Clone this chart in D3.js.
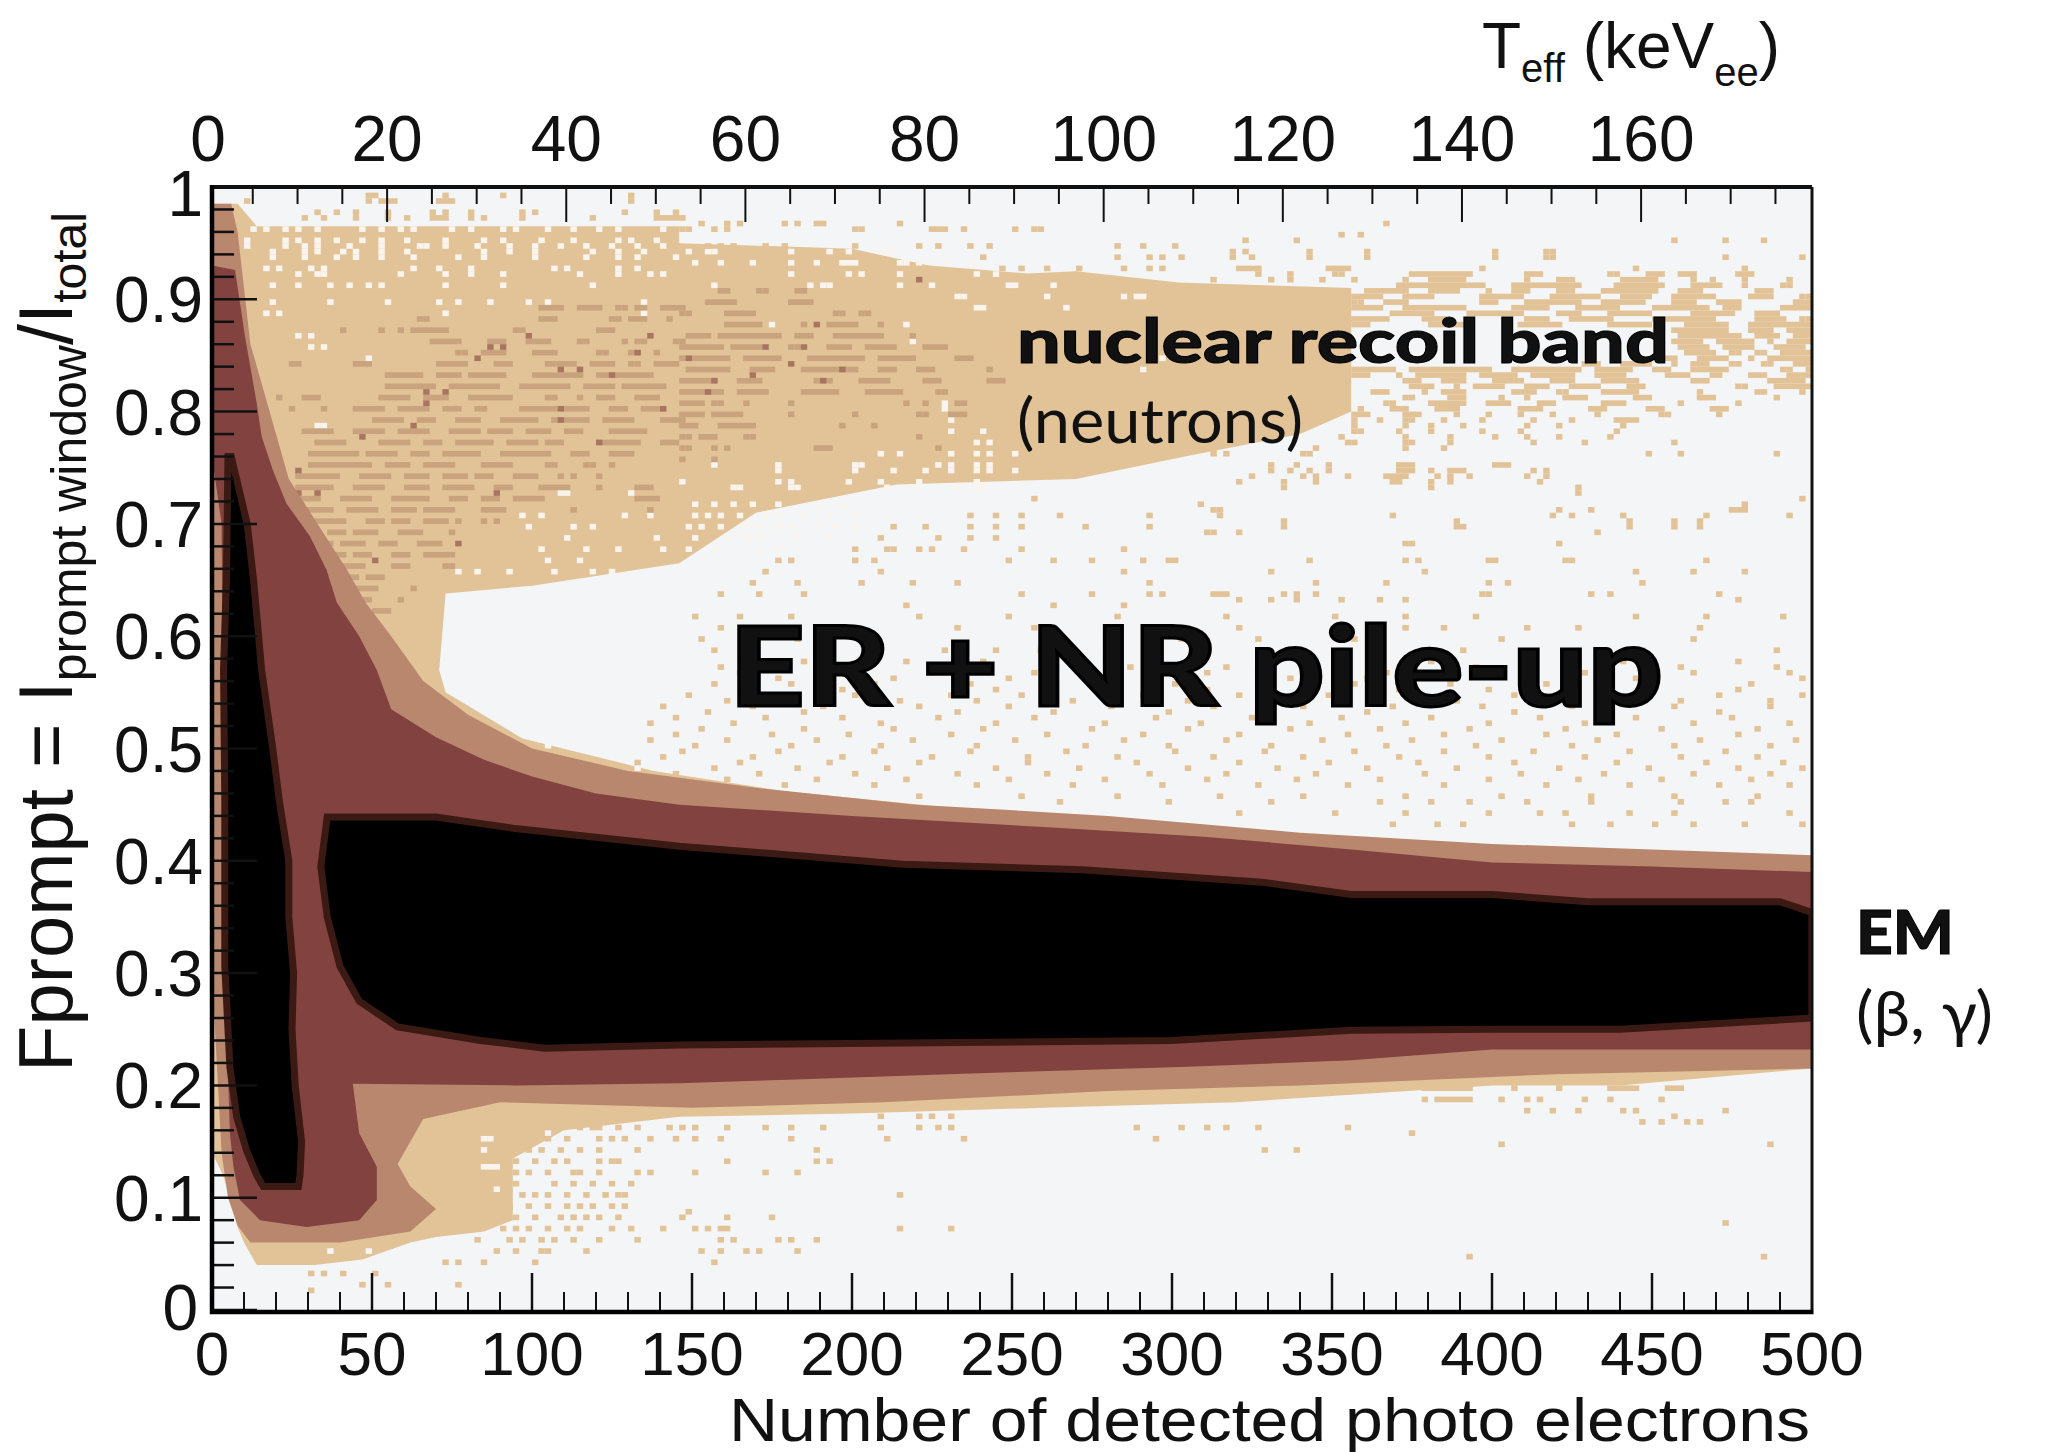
<!DOCTYPE html>
<html><head><meta charset="utf-8">
<script src="https://cdn.jsdelivr.net/npm/d3@7"></script>
<style>html,body{margin:0;background:#fff}svg{display:block}text{font-family:"Liberation Sans",Arial,sans-serif;fill:#111}</style>
</head><body><svg id="c" width="2049" height="1452"></svg>
<script>
// --- axis values
const peTicks=[0,50,100,150,200,250,300,350,400,450,500];
const peMinor=d3.range(0,500,10);
const teffTicks=[0,20,40,60,80,100,120,140,160];
const teffMinor=d3.range(5,180,5);
const fTicks=[0,.1,.2,.3,.4,.5,.6,.7,.8,.9,1];
const fMinor=d3.range(0,1,.02);
// --- density regions, [photoelectrons, Fprompt]
const tanUpper=[[0,.985],[8,.985],[14,.965],[146,.965],[146,.95],[200,.945],[224,.93],[255,.923],[270,.925],[302,.915],[356,.91],[356,.8],[340,.78],[304,.76],[270,.74],[214,.735],[170,.71],[146,.665],[100,.645],[73,.638],[71,.57],[73,.55],[97,.509],[138,.48],[179,.462],[261,.439],[343,.421],[424,.41],[500,.398],[500,.3],[0,.3]];
const tanLower=[[0,.3],[500,.3],[500,.215],[440,.2],[400,.2],[320,.185],[260,.18],[200,.175],[146,.172],[110,.16],[94,.135],[94,.08],[85,.07],[70,.065],[62,.06],[47,.045],[32,.04],[14,.04],[10,.06],[8,.074],[3.5,.12],[0,.14]];
const rimUpper=[[0,.985],[6,.985],[8,.96],[12,.86],[18,.8],[24,.74],[33,.7],[42,.66],[48,.63],[56,.6],[66,.56],[80,.53],[100,.5],[130,.48],[170,.465],[220,.45],[280,.44],[340,.425],[400,.415],[500,.405],[500,.3],[0,.3]];
const rimLower=[[0,.3],[500,.3],[500,.215],[420,.21],[340,.2],[280,.195],[210,.185],[150,.18],[90,.185],[66,.17],[58,.13],[62,.11],[70,.09],[62,.07],[40,.06],[12,.06],[8,.075],[5,.1],[3,.14]];
const brownBand=[[0,.93],[7.2,.926],[10.3,.867],[14,.807],[15.5,.778],[19,.748],[23.3,.718],[30.6,.689],[35.8,.659],[39,.63],[46,.6],[51.5,.57],[56,.535],[70,.51],[85,.49],[100,.475],[120,.46],[146,.45],[200,.44],[260,.43],[310,.4215],[356,.41],[400,.3985],[450,.395],[500,.39],[500,.232],[400,.232],[356,.2225],[305,.2165],[230,.21],[180,.205],[146,.202],[95,.2],[44,.2015],[46,.1575],[51.5,.1275],[51.5,.098],[46,.08],[29.6,.074],[15,.08],[8.75,.098],[6.7,.1275],[5.6,.1575],[4,.3],[3,.7],[0,.76]];
const blackLeg=[[5,.76],[6,.76],[11,.7],[13,.65],[15.5,.57],[19,.5],[21,.454],[24,.4],[24,.35],[25.5,.3],[25,.25],[26,.2],[28,.15],[27.5,.12],[27,.11],[16,.11],[14,.12],[10.8,.142],[7.7,.172],[5.6,.216],[4,.306],[4,.454],[3.6,.57],[4.5,.65]];
const blackBand=[[36,.439],[70,.439],[94,.429],[146,.413],[216,.397],[272,.392],[328,.381],[356,.37],[400,.37],[430,.3635],[490,.3635],[500,.354],[500,.26],[440,.25],[400,.25],[356,.249],[300,.24],[146,.236],[104,.233],[84,.24],[58,.252],[46,.275],[40,.306],[36,.35],[34,.395]];
// --- histogram cells. "row:col,col-col" with 250 columns (2 p.e.) and 200 rows (0.005)
const holeRows=["192:6,8,11,13,16,23,26,29,31,37,40,45,47,52,56,60,63,70","190:5,11,13,16,19,23,26,30,36,42,45,51,56,63,65,69","189:5,11,14,16,21,26,32,33,36,41,46,50,54,58,62,66,70","188:9,14,16,20,22,26,30,42,46,50,59,63,67,74,77,78,90,96,99,104-106","187:9,14,19,22,26,31,38,42,50,58,63,66,72","186:75,79,84,90,94,98-100,107,108,110,114,118","185:8,10,15,17,31,35,40,53,55,63,66","184:13,16,17,29,36,40,45,57,63,68,70,90,99,101,107,119,122","182:9,13,18,21,24,26,36,45,59,78,93,95,96,107,112,124,125,131","180:116,117,130,142,144,145","179:9,18,27,35,38,43,49,52,67","178:119,120,133","177:8,10,36,67","175:87,108","173:13,15","172:109","171:15,17","169:24,148","167:145","161:114","160:114","158:115","157:16,17","156:115,120","154:119,121","152:104,107,115,119,121,125","150:78,88,100,101,113,115,119,121","149:88,100,106,111,115,119,121,125","147:73,88,90,99,104,110,119","146:81,82,90,91,105,109,116,119,120","145:54,55,65","143:75,78,81,84,88,94,98","141:48,51,64,68,75,77,79,82,86,88,92,96,100","139:49,56,59,74,76,79,83,85,88,90,94,97,100","137:55,69,75,80,83,85,91,96","135:51,58,63,70,74,78,85,88","133:52,57","131:38,41,46,53,59,62","30:42,43","28:42","25:42-44","21:44"];
const tanRows=["198:24,25,36,45,65","197:5,24,26-28,35-37,65","195:16,19,22,27,34,36,40,48,50,64,69,72","194:14,17,22,27,30,34-36,40,42,48,59,69-73","193:76,80,82,89,91,94,95,107,183","192:73,74,78,80,100,101,112-114,117,125,128,129","191:176,179","190:161,169,228,236,242","189:77,79,81,86,89,100,110,113,118,121,141,145,150","188:159,161,171,180,200,208,209","187:86,120,141,146,148,151,159,162,171,180,200,208,209,236,248","185:123,126,130,135,142,146,148,160-163,174-177,198,222,239","184:163,168,175,176,187-196,205-207,218,219,224-226,229-231,238-240","183:156,165,168,173,178,186,190-195,205,210-212,220-225,231,234,239,246","182:185-198,203-213,219-226,231-235,239,245,246","181:180-186,190-194,199,203-205,210-212,217-225,229-232,241-243","180:178-182,186-190,198-204,209-216,220-224,228-234,240-243,248,249","179:178,179,183-186,198-200,205-213,217-223,228-231,235-238,247-249","178:178-182,186-195,203-208,213-219,225-233,236-238,245-249","177:184-190,196-204,210-213,218-224,231-237,241-244","176:177-183,189-192,205-208,212-218,225-234,241-245,248,249","175:178-180,190-196,204-210,218-224,230-236,240-249","174:228-236,240-243,246-249","173:229-238,241-244,247-249","172:228-232,235-240,243,246-249","171:229-233,236-240,244-248","170:230-234,237,238,241,242,245-249","169:226-228,232-236,240,243-249","168:214-216,220-224,228,231-233,237,238,242,243,247-249","167:178-184,187-199,203-213,216-221,225-227,231-236,245,246,249","166:178-180,185,188-195,198-203,206-212,216-220,227-230,234,235,240-242,246-249","165:186-188,192-195,200-204,209-212,217-222,231-233,243-248","164:187-190,194,197-201,205-208,212-216,221-223,238,239,244-249","163:181-183,189,192-195,203-206,210,211,217-222,232,241,242,248","162:186,187,193-195,201,205,211-214,222-224,232-234,244","161:183,184,190-195,199-202,207-209,217-220,229,238","160:179,184-186,191-194,204-207,215-217,224-226,234-236","159:178-180,186-188,194,199,204,209,216,226,227,235","158:178,182,186,187,192,198,206,212,219-222","157:178,186,190,195,205,210,220","156:178,179,185,190,198,204,219","155:176,186,193,200,205,210,218","154:177,178,186,187,193,206,214,228","153:156,172,186,192","152:156,158,170,171,224,229,244","150:165,169,174,185-187,200-202","149:165,168,171,174,185-187,190,193-195,206,208","148:162,170,172,177,183-186,191,193,196,205,208","147:160,167,172,184,185,190,193,207","146:167,190,213","145:213","144:128,248","143:154,239","142:156,157,210,215,237-239","141:118,122,126,132,146,157,184,209,212,220,233,246","140:167,194,221,228,232","139:106,111,118,122,126,136,146,167,194,195,221,228,232","138:155,156,160,216","137:104,113,118,122","136:186,187,210","135:100,105,106,110,112,117,126,142","133:88,90,100,103,124,131,137,145,149,150,171,186,188,199,200,211,212,233","131:86,104,142,165,189,222,231,239","129:84,91,101,109,116,146,172,183,199,202,223","127:79,85,92,126,137,146,148,156-158,167,169,172,198,199,215,218,235","126:160,165,169,176,182,186,238","125:108,131,142","123:75,82,90,110,124,141,158,175,186,197,222,233,245","121:79,116,128,160,186,192,205,213,232","119:76,91,151,163,178,201,231","117:78,114,122,129,176,195,223,244","115:85,92,108,120,135,147,165,177,190,205,220,238","114:79,101,116,143,158,186,197,229,244","113:82,96,112,128,140,155,172,183,200,214,231,246","112:88,106,124,137,168,180,211,222,248","111:78,90,103,118,131,150,163,178,193,208,225,240","110:84,98,122,141,155,185,199,216,238","109:74,88,100,115,126,145,160,174,188,203,218,235,248","108:80,107,119,134,152,166,194,209,229,243","107:70,84,95,110,124,140,156,170,184,198,212,228,243","106:77,92,116,131,149,163,180,203,218,235","105:72,86,98,113,128,147,162,176,190,207,222,237","104:68,81,104,122,139,154,171,186,199,214,231,246","103:76,92,106,120,137,152,168,182,196,211,226,241","102:72,87,99,115,130,145,160,177,192,208,219,238","101:68,80,94,109,125,142,158,173,187,201,216,232,247","100:75,90,104,119,136,149,165,183,197,212,228,243","99:73,88,103,118,133,150,164,178,192,206,221,236","98:70,84,98,112,127,141,156,170,185,199,214,229,241","97:66,82,96,110,127,144,160,174,188,203,219,233,245","96:78,91,105,122,135,152,166,180,194,210,224,238,248","95:72,85,100,116,130,146,158,172,189,204,217,231,243","94:80,94,108,124,139,155,169,182,199,213,226,240","93:89,103,119,134,148,163,177,192,208,221,235,246","91:110,126,141,157,170,186,201,215,228,241","90:132,149,165,182,190,196,205,215,229,236,240","88:160,175,186,199,207,211,221,228,246","86:184,191,195,212,218,225,231,239,248","39:185,189-196,203,210,218-222,227-229","37:189,191-196,201,205,207,214,218,226","35:205,209,213,220,222,236","34:104,110,112,115,228","33:223,226,230,232","32:46,48,50,53,57,59,60,63,66,71,73,75,80,86,90,95,104,110,113,115,144,151,155,158,163,177","31:187","30:48,52,55,60,62,64,68,72,75,79,90,105,117,147","29:201,243","28:49,51,54,57,60,66,94,164,169","26:47,50,53,55,60,62,63,80,94,96","24:47,49,52,56,57,60,66,68,75,86,91","22:45,47,53,56,59,62,65","20:44,48,50,52,55,58,61,63,64,107","18:43,46,49,52,55,57,59,62,64","17:74","16:44,47,50,54,56,58,60,63,73,80,87","15:236","14:45,47,49,52,55,57,62,65,70,75,77,79,80,107,115","12:41,46,48,51,53,56,60,66,79,81,88,90,94","10:44,47,51,52,58,76,79,83,85,91","9:196,242","8:36,38,42,50,78","6:15,17,20,25","4:23,27,38","3:15"];
const midRows=["181:79,80,85,86,91,92","179:77-81,90-93","178:51-54,57-60,63,64,66,67,70-73","177:73,74,80-84,97,98,101,102","176:32,33,51-53,62,63,65-67,71","175:80-85,92,96-100,104","174:20,26,29,31-36,47,48,60-62","173:74-77,79-88,91-93,97-104,109","172:34-38,43-45,49-52,57,58,64,66,67,72,73","171:73-79,81-85,90,91,96-99,102-106,111-114","170:38,39,42-45,50-53,60,61,65,66,69","169:73,75-80,83-88,93-101,104-109,116-118","168:12,13,22-24,35-39,44-46,52-56,59-62,65,66,69-72","167:74-80,84-87,92-100,104-106,110-112,121","166:27-32,35-38,40-45,50-57,60-68","165:73-78,82-85,94-96,101-105,111-113,121-123","164:27-34,37-44,48-55,58-62,64-70","163:73-79,82-86,92-97,102-107,113,114","162:10,14-16,26-30,33-36,40-46,52,53,57,60-62,66-69","161:73-76,78,79,83,90,108,111,116,117","160:12,17,22-26,29-33,36-38,41,42,48-53,55-58,62-64,67-70","159:73-76,78-82,90,100,110,111,115-117","158:25-29,32-34,38-41,45-50,53-58,61-65,70-73","157:73-75,79-84,98,103","156:14-18,22-26,29-33,37-41,43-46,49-52,55-57,62-67","155:73,74,76-78,83,84,110","154:16-20,26-30,33-35,38-43,46-50,52-54,60-66,70-72","153:73,74,78,80,94-96,113","152:15-22,24-28,31-33,36-41,45-52,56-58,62-65","151:73,78","150:15-24,27-30,33-37,42-46,52,53,58,59,62","148:13-19,23-27,30-33,36-39,41-43,47-50,54,56,60","146:13-18,22-26,30-33,36-40,44-46,51-55,60,66-68","144:11-16,20-24,28-33,37-39,42-44,47-51,66-69","142:12-18,21-25,28-31,33-37,42-45,56,68","140:14-20,24-26,28-30,33-36,38,42,44","138:13-16,18-20,22-25,29-32,37","136:14-18,20-23,26-28,32-35","134:16-20,22-24,28-30,33-37","132:19-23,28-30,36,37","130:19-22,24-26","128:22-25,31","126:22-24,29","124:19,20,25-27"];
const darkRows=["183:110","175:94","173:49,68","171:43,45,86,92","170:66","169:41,74","168:90","167:54,57,98","166:62,84","165:78,95","163:33,36,77","161:33","160:54,70","158:54","157:31","155:23","154:60","149:13","145:13,16,44","136:38","133:25"];
// --- band edges between the tan cells on the ER band's upper side (cells of the background colour)
const edgeHoleRows=["108:48","100:52,57","96:66","92:62,70","88:118,125-128,135,142,150","86:144,151,160,163,171","85:172,178,186,193","84:182,191,199,205,212,220,228","83:196,208,224,236,243","31:52,60","20:27,30","10:18,24,31"];
// --- axis and annotation text
const yLabels=["0","0.1","0.2","0.3","0.4","0.5","0.6","0.7","0.8","0.9","1"];

const svg=d3.select("#c");
const x=d3.scaleLinear().domain([0,500]).range([212,1812]);
const xTop=d3.scaleLinear().domain([.45,179.08]).range([212,1812]);
const y=d3.scaleLinear().domain([0,1]).range([1310,187]);
const colors={bg:"#f4f5f6",tan:"#e2c297",hole:"#f9f5ee",mid:"#c9a27e",dark:"#a87660",rim:"#b8876e",brown:"#824240",black:"#000",edge:"#3c1a14"};
svg.append("defs").append("clipPath").attr("id","plot").append("rect").attr("x",x(0)).attr("y",y(1)).attr("width",x(500)-x(0)).attr("height",y(0)-y(1));
const plot=svg.append("g").attr("clip-path","url(#plot)");
plot.append("rect").attr("x",x(0)).attr("y",y(1)).attr("width",x(500)-x(0)).attr("height",y(0)-y(1)).attr("fill",colors.bg);
const line=d3.line().x(d=>x(d[0])).y(d=>y(d[1])).curve(d3.curveLinearClosed);
const area=(pts,fill,extra)=>{const p=plot.append("path").attr("d",line(pts)).attr("fill",fill);if(extra)p.attr("stroke",extra).attr("stroke-width",7);return p};
const parse=rows=>rows.flatMap(r=>{const [iy,l]=r.split(":");return l.split(",").map(s=>{const [a,b]=s.split("-").map(Number);return {iy:+iy,a,b:b===undefined?a:b}})});
const cells=(rows,fill)=>plot.append("g").attr("fill",fill).selectAll("rect").data(parse(rows)).join("rect")
  .attr("x",d=>x(d.a*2)).attr("y",d=>y((d.iy+1)/200)).attr("width",d=>x((d.b+1)*2)-x(d.a*2)).attr("height",y(0)-y(1/200));
area(tanUpper,colors.tan);area(tanLower,colors.tan);
cells(holeRows,colors.hole);cells(edgeHoleRows,colors.bg);
cells(tanRows,colors.tan);cells(midRows,colors.mid);cells(darkRows,colors.dark);
area(rimUpper,colors.rim);area(rimLower,colors.rim);
area(brownBand,colors.brown);
area(blackLeg,colors.black,colors.edge);area(blackBand,colors.black,colors.edge);
// axes
const ax=svg.append("g").attr("stroke","#111");
ax.selectAll(".a").data(peMinor).join("line").attr("x1",d=>x(d)).attr("x2",d=>x(d)).attr("y1",y(0)).attr("y2",d=>y(0)-(d%50===0?37:18)).attr("stroke-width",d=>d%50===0?2.5:2);
ax.selectAll(".b").data(teffMinor).join("line").attr("x1",d=>xTop(d)).attr("x2",d=>xTop(d)).attr("y1",y(1)).attr("y2",d=>y(1)+(d%20===0?35:17)).attr("stroke-width",2);
ax.selectAll(".c").data(fMinor).join("line").attr("y1",d=>y(d)).attr("y2",d=>y(d)).attr("x1",x(0)).attr("x2",(d,i)=>x(0)+(i%5===0?45:22)).attr("stroke-width",2.5);
svg.append("path").attr("d",`M${x(0)},${y(1)}H${x(500)}`).attr("stroke","#111").attr("stroke-width",4);
svg.append("path").attr("d",`M${x(500)},${y(1)}V${y(0)}`).attr("stroke","#111").attr("stroke-width",3);
svg.append("path").attr("d",`M${x(0)},${y(1)-2}V${y(0)+2}H${x(500)+1.5}`).attr("stroke","#000").attr("stroke-width",4.5).attr("fill","none");
// labels
const txt=(s,px,py,size,o={})=>{const t=svg.append("text").attr("x",px).attr("y",py).attr("font-size",size).attr("text-anchor",o.anchor||"start").text(s);
  if(o.family)t.style("font-family",o.family);if(o.weight)t.attr("font-weight",o.weight);if(o.len)t.attr("textLength",o.len).attr("lengthAdjust","spacingAndGlyphs");if(o.stroke)t.attr("stroke","#000").attr("stroke-width",o.stroke);return t};
peTicks.forEach(d=>txt(d,x(d)+(d===0?0:0),1375,62,{anchor:"middle"}));
teffTicks.forEach(d=>txt(d,xTop(d),161,64,{anchor:"middle"}));
yLabels.forEach((s,i)=>txt(s,s==="0"?198:203,y(fTicks[i])+(s==="1"?29:(s==="0"?20:23)),64,{anchor:"end"}));
const yt=svg.append("text").attr("transform","translate(72,1072) rotate(-90)").attr("font-size",76);
yt.append("tspan").text("Fprompt = I");
yt.append("tspan").attr("font-size",50).attr("dy",14).text("prompt window");
yt.append("tspan").attr("dy",-14).text("/I");
yt.append("tspan").attr("font-size",48).attr("dy",14).text("total");
const tt=svg.append("text").attr("x",1482).attr("y",68).attr("font-size",64);
tt.append("tspan").text("T");tt.append("tspan").attr("font-size",40).attr("dy",14).text("eff");
tt.append("tspan").attr("dy",-14).text(" (keV");tt.append("tspan").attr("font-size",40).attr("dy",18).text("ee");tt.append("tspan").attr("dy",-18).text(")");
txt("Number of detected photo electrons",729,1441,62,{len:1081});
const L='Lato,sans-serif';
txt("nuclear recoil band",1017,363,60,{family:L,weight:900,len:652,stroke:1});
txt("(neutrons)",1017,443,62,{family:L,len:286});
txt("ER + NR pile-up",729,706,110,{family:L,weight:900,len:934,stroke:3});
txt("EM",1856,954,60,{family:L,weight:900,len:98,stroke:1});
txt("(β, γ)",1856,1036,62,{family:L,len:137});
</script></body></html>
